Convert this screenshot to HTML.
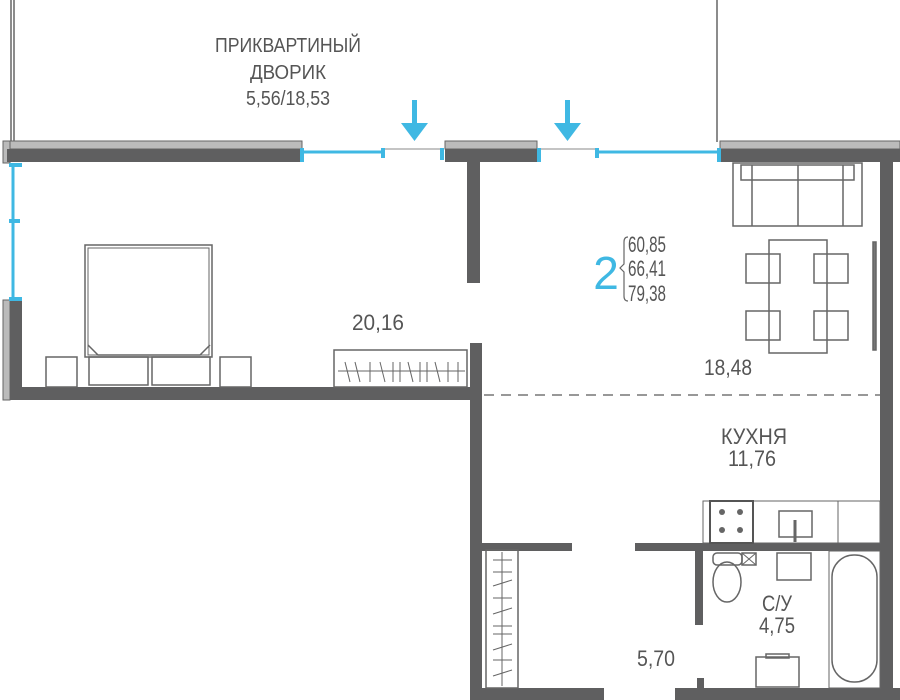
<!DOCTYPE html>
<html><head><meta charset="utf-8"><style>
html,body{margin:0;padding:0;background:#fff;}
svg{display:block}
text{font-family:"Liberation Sans",sans-serif;fill:#555;}
</style></head><body>
<svg width="900" height="700" viewBox="0 0 900 700" xmlns="http://www.w3.org/2000/svg">
<g stroke="#666" stroke-width="1.5" fill="none">
<line x1="11" y1="0" x2="11" y2="142"/><line x1="14" y1="0" x2="14" y2="142"/>
<line x1="717" y1="0" x2="717" y2="142"/>
</g>
<text x="288" y="52" font-size="20" text-anchor="middle" textLength="146" lengthAdjust="spacingAndGlyphs">ПРИКВАРТИНЫЙ</text>
<text x="288" y="79" font-size="20" text-anchor="middle" textLength="76" lengthAdjust="spacingAndGlyphs">ДВОРИК</text>
<text x="288" y="105" font-size="20" text-anchor="middle" textLength="84" lengthAdjust="spacingAndGlyphs">5,56/18,53</text>
<g fill="#3fb8e3">
<rect x="412" y="100" width="5" height="25"/><polygon points="401,123 428,123 414.5,141"/>
<rect x="565" y="100" width="5" height="25"/><polygon points="554,123 581,123 567.5,141"/>
</g>
<g fill="#bbb" stroke="#666" stroke-width="1">
<rect x="3" y="141" width="299" height="8"/>
<rect x="445" y="141" width="92" height="8"/>
<rect x="720" y="141" width="180" height="8"/>
<rect x="3" y="141" width="7" height="22"/>
<rect x="3" y="300" width="7" height="100"/>
</g>
<g fill="#5f5f60">
<rect x="7" y="149" width="295" height="13"/>
<rect x="445" y="149" width="92" height="13"/>
<rect x="720" y="149" width="180" height="13"/>
<rect x="10" y="300" width="12" height="100"/>
<rect x="10" y="387" width="472" height="13"/>
<rect x="467" y="160" width="13" height="123"/>
<rect x="470" y="343" width="12" height="357"/>
<rect x="880" y="160" width="13" height="540"/>
<rect x="482" y="543" width="90" height="8"/>
<rect x="635" y="543" width="245" height="8"/>
<rect x="695" y="551" width="8" height="74"/>
<rect x="482" y="688" width="122" height="12"/>
<rect x="675" y="688" width="225" height="12"/>
<rect x="697" y="678" width="7" height="10"/>
</g>
<g stroke="#3fb8e3" stroke-width="3">
<line x1="302" y1="152" x2="385" y2="152"/>
<line x1="597" y1="152" x2="720" y2="152"/>
<line x1="13" y1="165" x2="13" y2="300"/>
</g>
<g fill="#3fb8e3"><rect x="300" y="148" width="4" height="14"/><rect x="381" y="148" width="4" height="10"/><rect x="440" y="148" width="4" height="12"/><rect x="537" y="148" width="4" height="14"/><rect x="595" y="148" width="4" height="10"/><rect x="717" y="148" width="4" height="14"/>
<rect x="9" y="163" width="13" height="4"/><rect x="9" y="219" width="11" height="4"/><rect x="9" y="297" width="13" height="4"/></g>
<g stroke="#888" stroke-width="1"><line x1="385" y1="149" x2="440" y2="149"/><line x1="541" y1="149" x2="595" y2="149"/></g>
<line x1="484" y1="395" x2="880" y2="395" stroke="#777" stroke-width="1.5" stroke-dasharray="10,7"/>
<g fill="none" stroke="#666" stroke-width="1.5">
<rect x="85" y="245" width="127" height="112"/>
<rect x="88" y="248" width="121" height="107" stroke-width="1"/>
<polyline points="88,345 98,355 200,355 210,345"/>
<rect x="89" y="357" width="59" height="28"/><rect x="152" y="357" width="58" height="28"/>
<rect x="46" y="357" width="31" height="30"/><rect x="220" y="357" width="31" height="30"/>
<rect x="334" y="350" width="133" height="37"/>
<line x1="338" y1="371" x2="465" y2="371" stroke-width="1"/>
<rect x="733" y="163" width="129" height="63"/>
<rect x="741" y="165" width="113" height="15"/>
<line x1="752" y1="165" x2="752" y2="226"/><line x1="798" y1="165" x2="798" y2="226"/><line x1="843" y1="165" x2="843" y2="226"/>
<rect x="769" y="240" width="58" height="113"/>
<rect x="746" y="254" width="34" height="29"/><rect x="814" y="254" width="34" height="29"/>
<rect x="746" y="311" width="34" height="29"/><rect x="814" y="311" width="34" height="29"/>
<rect x="873" y="242" width="3" height="108" fill="#777"/>
<rect x="486" y="550" width="32" height="138"/>
<line x1="502" y1="552" x2="502" y2="686" stroke-width="1"/>
<rect x="703" y="501" width="177" height="42" stroke-width="1"/>
<rect x="710" y="501" width="43" height="42" stroke="#555" stroke-width="2"/>
<rect x="779" y="511" width="33" height="26"/>
<line x1="795" y1="520" x2="795" y2="542" stroke-width="3"/>
<line x1="838" y1="501" x2="838" y2="543" stroke-width="1"/>
<rect x="777" y="553" width="34" height="27"/>
<ellipse cx="727" cy="582" rx="14" ry="20"/>
<rect x="713" y="553" width="29" height="12" rx="4"/>
<rect x="742" y="553" width="14" height="12"/>
<line x1="742" y1="553" x2="756" y2="565" stroke-width="1"/><line x1="756" y1="553" x2="742" y2="565" stroke-width="1"/>
<rect x="829" y="551" width="51" height="137" stroke-width="1"/>
<rect x="832" y="555" width="45" height="127" rx="22"/>
<rect x="756" y="657" width="43" height="30"/>
<rect x="766" y="654" width="23" height="4"/>
<path d="M628,237 Q624,237 624,242 L624,264 L620,268 L624,272 L624,296 Q624,301 628,301" stroke-width="1.2"/>
</g>
<g fill="#666"><circle cx="722" cy="512" r="3"/><circle cx="740" cy="512" r="3"/><circle cx="722" cy="530" r="3"/><circle cx="740" cy="530" r="3"/></g>
<g stroke="#666" stroke-width="1">
<line x1="345" y1="362" x2="350" y2="382"/><line x1="355" y1="362" x2="360" y2="382"/><line x1="370" y1="362" x2="370" y2="382"/><line x1="380" y1="362" x2="385" y2="382"/><line x1="393" y1="362" x2="393" y2="382"/><line x1="400" y1="362" x2="400" y2="382"/><line x1="408" y1="362" x2="413" y2="382"/><line x1="420" y1="362" x2="420" y2="382"/><line x1="427" y1="362" x2="427" y2="382"/><line x1="435" y1="362" x2="440" y2="382"/><line x1="448" y1="362" x2="448" y2="382"/><line x1="458" y1="362" x2="458" y2="382"/>
<line x1="493" y1="560" x2="512" y2="560"/><line x1="493" y1="572" x2="512" y2="572"/><line x1="493" y1="586" x2="512" y2="580"/><line x1="493" y1="598" x2="512" y2="598"/><line x1="493" y1="614" x2="512" y2="608"/><line x1="493" y1="626" x2="512" y2="626"/><line x1="493" y1="634" x2="512" y2="634"/><line x1="493" y1="650" x2="512" y2="644"/><line x1="493" y1="660" x2="512" y2="660"/><line x1="493" y1="676" x2="512" y2="670"/>
</g>
<text x="378" y="330" font-size="22" text-anchor="middle" textLength="52" lengthAdjust="spacingAndGlyphs">20,16</text>
<text x="606" y="289" font-size="46" text-anchor="middle" style="fill:#3fb8e3">2</text>
<text x="628" y="252" font-size="22" textLength="38" lengthAdjust="spacingAndGlyphs">60,85</text>
<text x="628" y="276" font-size="22" textLength="38" lengthAdjust="spacingAndGlyphs">66,41</text>
<text x="628" y="301" font-size="22" textLength="38" lengthAdjust="spacingAndGlyphs">79,38</text>
<text x="728" y="375" font-size="22" text-anchor="middle" textLength="48" lengthAdjust="spacingAndGlyphs">18,48</text>
<text x="754" y="444" font-size="22" text-anchor="middle" textLength="66" lengthAdjust="spacingAndGlyphs">КУХНЯ</text>
<text x="752" y="466" font-size="22" text-anchor="middle" textLength="48" lengthAdjust="spacingAndGlyphs">11,76</text>
<text x="777" y="611" font-size="22" text-anchor="middle" textLength="30" lengthAdjust="spacingAndGlyphs">С/У</text>
<text x="777" y="633" font-size="22" text-anchor="middle" textLength="36" lengthAdjust="spacingAndGlyphs">4,75</text>
<text x="656" y="666" font-size="22" text-anchor="middle" textLength="38" lengthAdjust="spacingAndGlyphs">5,70</text>
</svg>
</body></html>
